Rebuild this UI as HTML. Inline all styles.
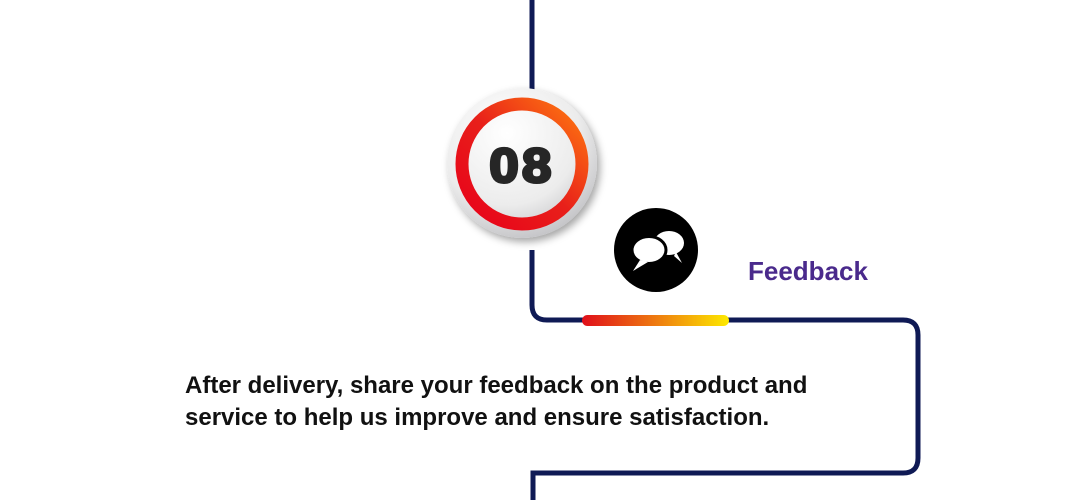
<!DOCTYPE html>
<html><head><style>
body{margin:0;width:1080px;height:500px;background:#fff;position:relative;overflow:hidden;font-family:"Liberation Sans",sans-serif}
.t{position:absolute;left:185px;top:370px;font-size:24px;font-weight:bold;color:#111;line-height:32px;letter-spacing:0px}
.f{position:absolute;left:748px;top:256px;font-size:26px;font-weight:bold;color:#4a2a8c}
</style></head><body>
<svg width="1080" height="500" style="position:absolute;left:0;top:0">
<defs>
<linearGradient id="bar" gradientUnits="userSpaceOnUse" x1="583" y1="0" x2="728" y2="0"><stop offset="0" stop-color="#e0101a"/><stop offset="0.5" stop-color="#ee7a10"/><stop offset="1" stop-color="#fde800"/></linearGradient>
<linearGradient id="ring" x1="0" y1="1" x2="1" y2="0"><stop offset="0" stop-color="#e8001a"/><stop offset="0.5" stop-color="#e8201a"/><stop offset="1" stop-color="#ff7a10"/></linearGradient>
<radialGradient id="ball" cx="0.4" cy="0.3" r="0.8"><stop offset="0" stop-color="#ffffff"/><stop offset="0.6" stop-color="#ececec"/><stop offset="1" stop-color="#b8b8bc"/></radialGradient>
<filter id="sh" x="-30%" y="-30%" width="160%" height="160%"><feDropShadow dx="3" dy="4" stdDeviation="4" flood-opacity="0.35"/></filter>
</defs>
<path d="M532 0 V90 M532 250 V305 Q532 320 547 320 H903 Q918 320 918 335 V458 Q918 473 903 473 H533 V500" fill="none" stroke="#0f1a55" stroke-width="5"/>
<rect x="582" y="315" width="147" height="11" rx="5.5" fill="url(#bar)"/>
<circle cx="522" cy="163" r="75" fill="url(#ball)" filter="url(#sh)"/>
<circle cx="522" cy="164" r="60" fill="none" stroke="url(#ring)" stroke-width="13"/>
<text x="522" y="182" text-anchor="middle" font-family="Liberation Sans" font-weight="bold" font-size="48" fill="#262626" stroke="#262626" stroke-width="3" letter-spacing="3" transform="translate(522 0) scale(1.1 1) translate(-522 0)">08</text>
<circle cx="656" cy="250" r="42" fill="#000"/>
<g fill="#fff">
<ellipse cx="669" cy="243" rx="15" ry="12"/>
<path d="M676 252 L682 263 L674 256 Z"/>
</g>
<g fill="#fff" stroke="#000" stroke-width="3">
<ellipse cx="649" cy="250" rx="17" ry="13.5"/>
</g>
<path d="M640 260 L633 271 L648 262 Z" fill="#fff"/>
</svg>
<div class="f">Feedback</div>
<div class="t">After delivery, share your feedback on the product and<br>service to help us improve and ensure satisfaction.</div>
</body></html>
